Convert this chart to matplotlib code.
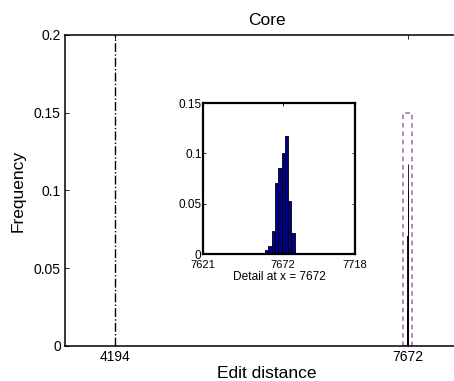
import numpy as np
import matplotlib
matplotlib.use("Agg")
import matplotlib.pyplot as plt

plt.rcParams['font.family'] = ['Liberation Sans', 'DejaVu Sans']

# histogram of edit distances (bin centres and frequencies)
bin_centers = [7659.6, 7661.7, 7663.8, 7665.9, 7668.0, 7670.1, 7672.2, 7674.3, 7676.4, 7678.5]
freqs = [0.0013, 0.004, 0.008, 0.023, 0.071, 0.085, 0.100, 0.117, 0.053, 0.021]
bin_width = 2.1

ref_x = 4194          # dash-dot reference line
mean_x = 7672         # centre of the detail
detail_xlim = (7621, 7718)
detail_ylim = (0, 0.15)

fig = plt.figure(figsize=(4.54, 3.81), dpi=100)
ax = fig.add_axes([0.1432, 0.0919, 0.89, 0.8163])

ax.bar(bin_centers, freqs, width=bin_width, color='black', edgecolor='black', linewidth=0.6)
ax.plot([ref_x, ref_x], [0, 0.2], color='black', linestyle='-.', linewidth=1.0)

# dashed box marking the zoomed region
bx = [detail_xlim[0], detail_xlim[0], detail_xlim[1], detail_xlim[1], detail_xlim[0]]
by = [detail_ylim[0], detail_ylim[1], detail_ylim[1], detail_ylim[0], detail_ylim[0]]
ax.plot(bx, by, color='#9a6aa8', linestyle=(0, (3, 2.5)), linewidth=1.1)

ax.set_xlim(3600, 8400)
ax.set_ylim(0, 0.2)
ax.set_xticks([ref_x, mean_x])
ax.set_xticklabels(['4194', '7672'])
ax.set_yticks([0, 0.05, 0.1, 0.15, 0.2])
ax.set_yticklabels(['0', '0.05', '0.1', '0.15', '0.2'])
ax.tick_params(direction='in', top=True, right=False, labelsize=10, length=3, width=0.6, pad=3)
ax.spines['right'].set_visible(False)
for s in ax.spines.values():
    s.set_linewidth(1.1)
ax.set_xlabel('Edit distance', fontsize=12.5, labelpad=1)
ax.set_ylabel('Frequency', fontsize=12.5, labelpad=6)
ax.set_title('Core', fontsize=12.5, pad=7)

# inset
axin = fig.add_axes([0.447, 0.3333, 0.3348, 0.3963])
axin.bar(bin_centers, freqs, width=bin_width, color='#000090', edgecolor='black', linewidth=0.6)
axin.set_xlim(*detail_xlim)
axin.set_ylim(*detail_ylim)
axin.set_xticks([7621, 7672, 7718])
axin.set_xticklabels(['7621', '7672', '7718'])
axin.set_yticks([0, 0.05, 0.1, 0.15])
axin.set_yticklabels(['0', '0.05', '0.1', '0.15'])
axin.tick_params(direction='in', top=True, right=True, labelsize=8, length=2, width=0.6, pad=1)
axin.tick_params(axis='y', labelsize=8.5)
axin.tick_params(axis='x', pad=4)
for s in axin.spines.values():
    s.set_linewidth(1.6)
axin.set_xlabel('Detail at x = 7672', fontsize=8.6, labelpad=1)

fig.savefig('out.png', dpi=100)
